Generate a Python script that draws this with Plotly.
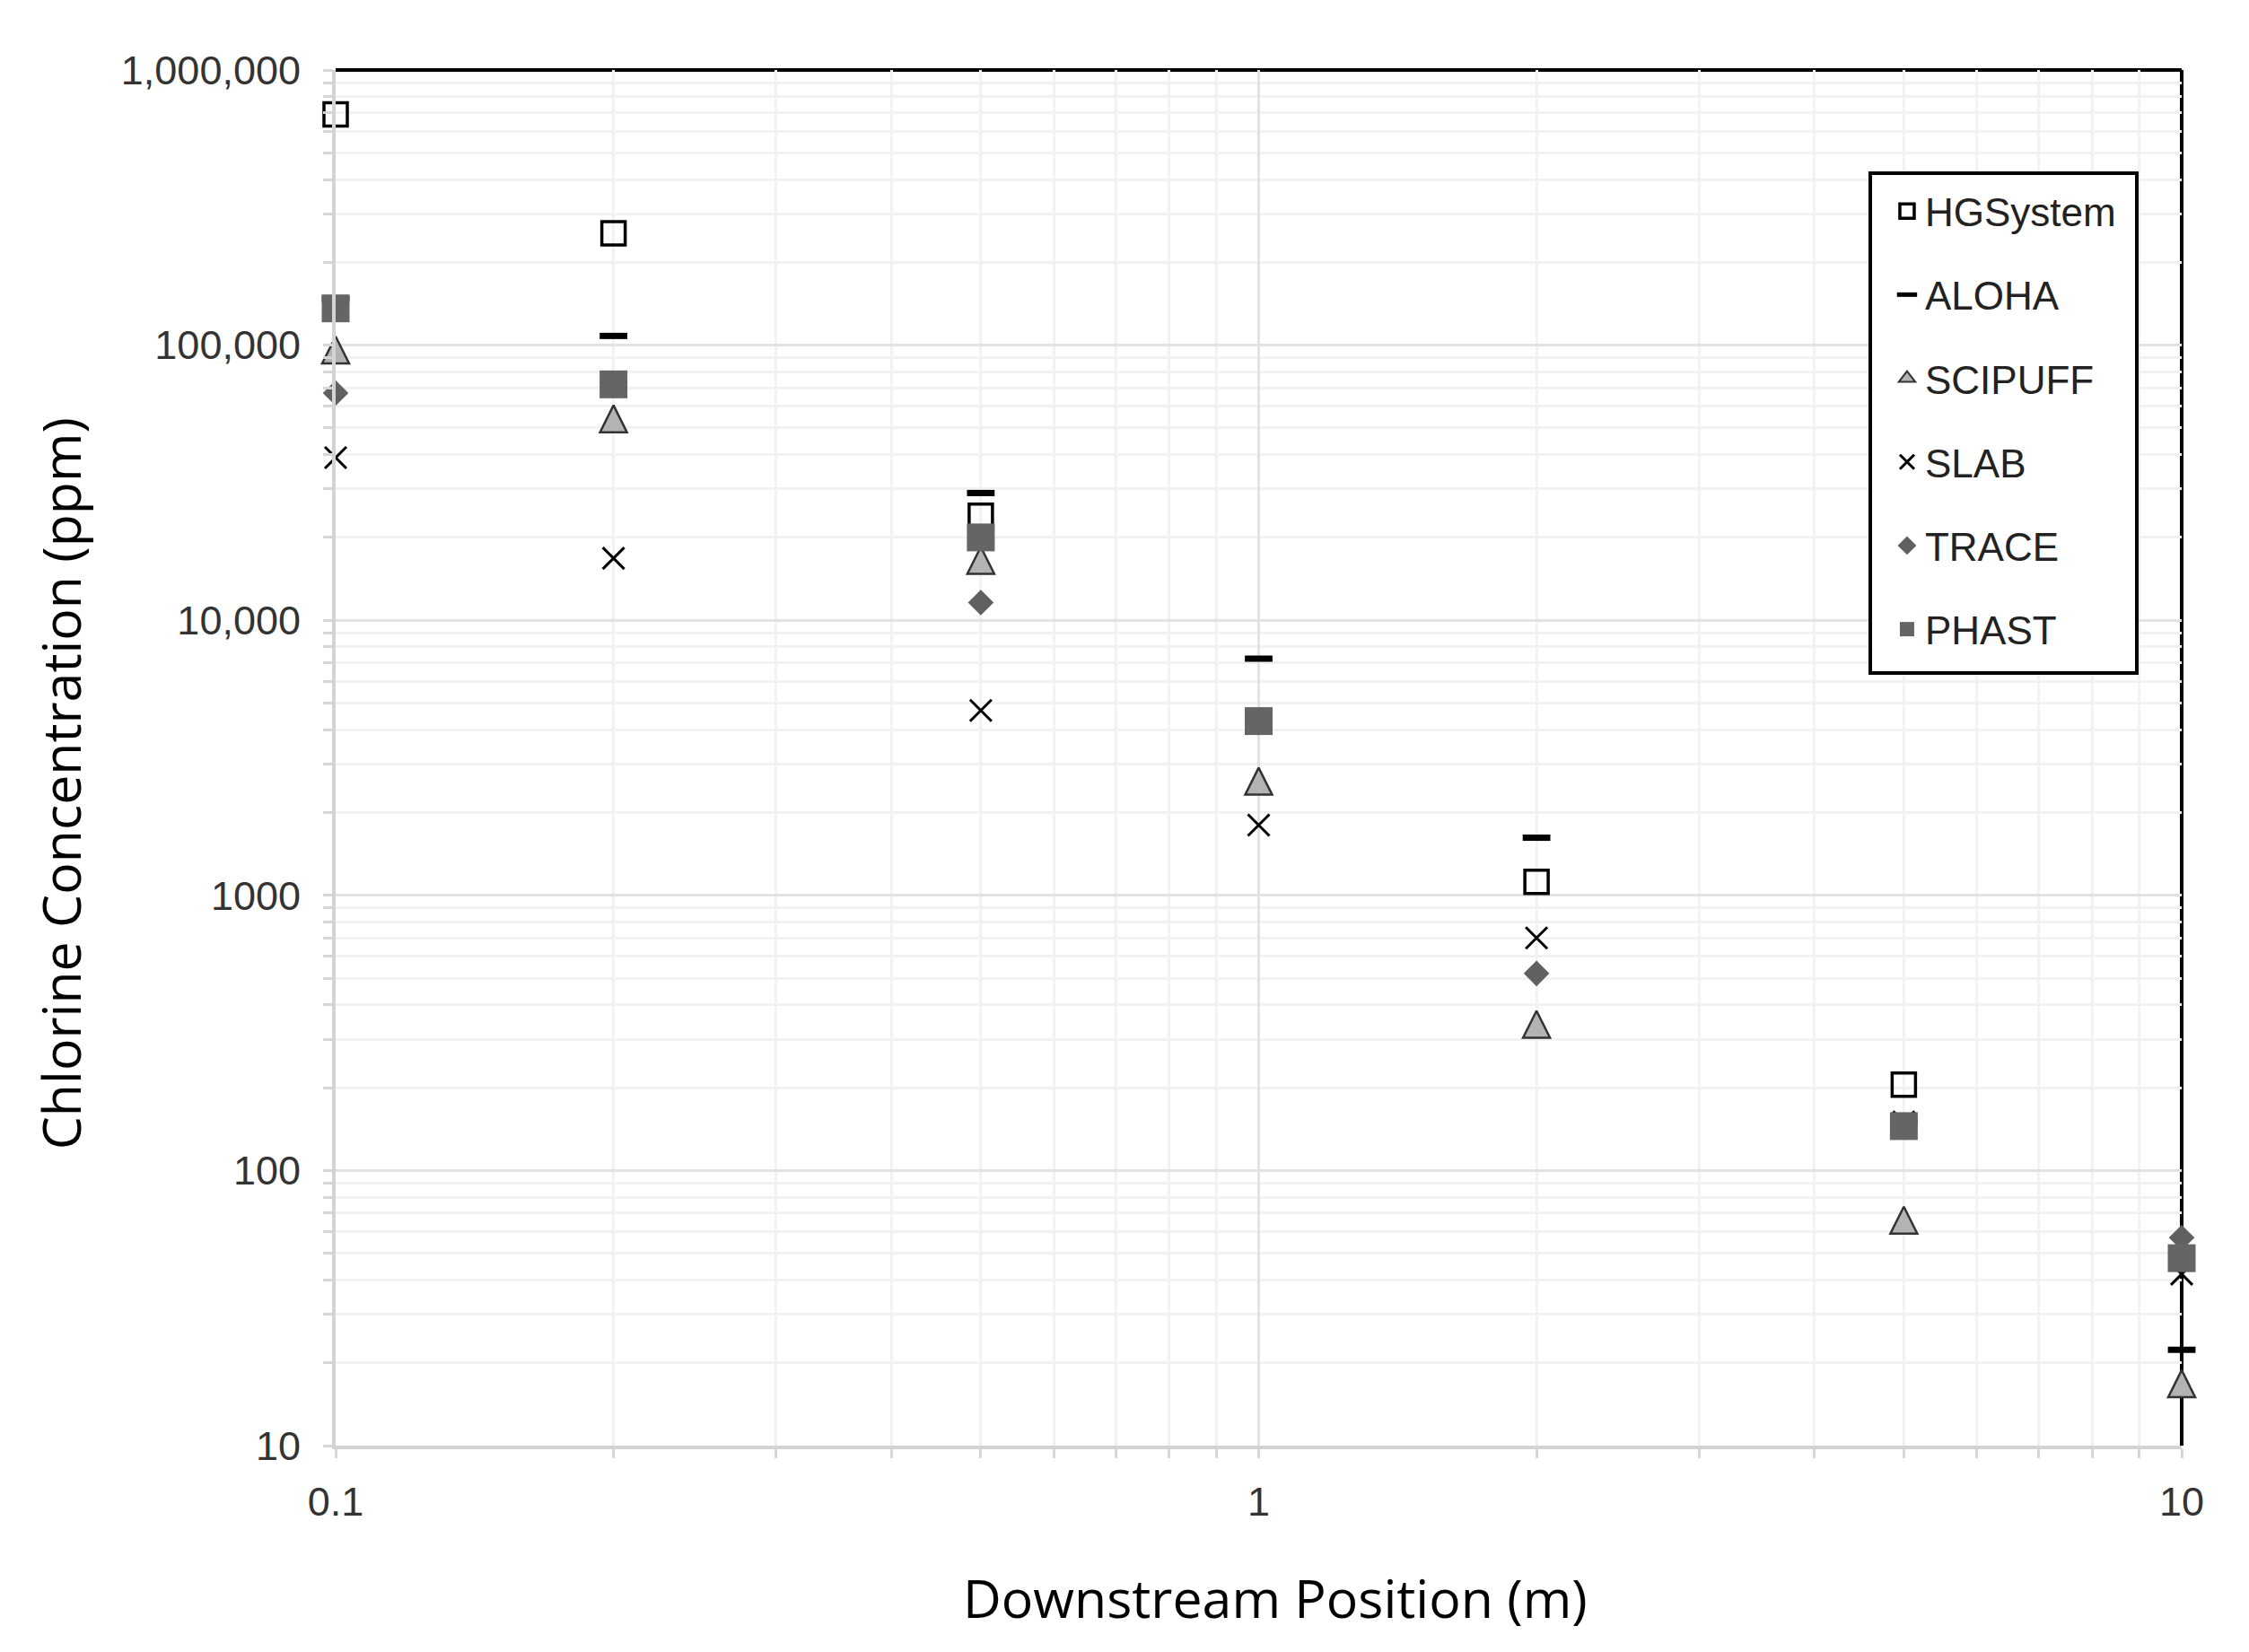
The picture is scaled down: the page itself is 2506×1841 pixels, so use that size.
import plotly.graph_objects as go

# ---- data ----
positions = [0.1, 0.2, 0.5, 1, 2, 5, 10]
hgsystem = [690000, 255000, 24000, None, 1120, 205, None]
aloha    = [147000, 108000, 29000, 7250, 1620, 150, 22.3]
scipuff  = [96000, 54000, 16500, 2600, 340, 66, 16.8]
slab     = [39000, 16800, 4700, 1800, 700, 150, 42]
trace_m  = [67000, None, 11600, None, 520, None, 57]
phast    = [136000, 72000, 20000, 4300, None, 145, 48]

series_names = ["HGSystem", "ALOHA", "SCIPUFF", "SLAB", "TRACE", "PHAST"]
series_values = [hgsystem, aloha, scipuff, slab, trace_m, phast]

x_tickvals = [0.1, 1, 10]
x_ticktext = ["0.1", "1", "10"]
y_tickvals = [10, 100, 1000, 10000, 100000, 1000000]
y_ticktext = ["10", "100", "1000", "10,000", "100,000", "1,000,000"]

# ---- styles ----
marker_styles = {
    "HGSystem": dict(symbol="square-open", size=26, color="black", line=dict(width=3.5)),
    "ALOHA": dict(symbol="line-ew-open", size=22, color="black", line=dict(width=7)),
    "SCIPUFF": dict(symbol="arrow-down", angle=180, standoff=15, size=30, color="#b3b3b3",
                    line=dict(width=2.5, color="#333333")),
    "SLAB": dict(symbol="x-thin-open", size=24, color="black", line=dict(width=3)),
    "TRACE": dict(symbol="diamond", size=22, color="#606060", line=dict(width=0)),
    "PHAST": dict(symbol="square", size=31, color="#656565", line=dict(width=0)),
}
# legend-only look for the triangle (the plotted one uses a centred tall arrow shape)
scipuff_legend_marker = dict(symbol="triangle-up", size=16, color="#b3b3b3",
                             line=dict(width=2, color="#333333"))

fig = go.Figure()
for name, vals in zip(series_names, series_values):
    is_tri = name == "SCIPUFF"
    fig.add_trace(go.Scatter(
        x=positions, y=vals, mode="markers", name=name,
        legendgroup=name, marker=marker_styles[name], cliponaxis=False,
        showlegend=not is_tri,
    ))
    if is_tri:
        fig.add_trace(go.Scatter(
            x=[None], y=[None], mode="markers", name=name,
            legendgroup=name, marker=scipuff_legend_marker, showlegend=True,
        ))

tick_font = dict(family="Liberation Sans, Arial, sans-serif", size=45, color="#333333")
minor_common = dict(showgrid=True, gridcolor="#f2f2f2", gridwidth=3,
                    ticks="outside", ticklen=10, tickcolor="#d6d6d6", tickwidth=3)

fig.update_xaxes(
    type="log", range=[-1, 1], tickmode="array", tickvals=x_tickvals, ticktext=x_ticktext,
    showgrid=True, gridcolor="#e2e2e2", gridwidth=3,
    ticks="outside", ticklen=10, tickcolor="#d6d6d6", tickwidth=3,
    showline=True, linecolor="#d3d3d3", linewidth=4, zeroline=False,
    tickfont=tick_font, ticklabelstandoff=10,
    minor=dict(dtick="D1", **minor_common),
)
fig.update_yaxes(
    type="log", range=[1, 6], tickmode="array", tickvals=y_tickvals, ticktext=y_ticktext,
    showgrid=True, gridcolor="#e2e2e2", gridwidth=3,
    ticks="outside", ticklen=10, tickcolor="#d6d6d6", tickwidth=3,
    showline=True, linecolor="#d3d3d3", linewidth=4, zeroline=False,
    tickfont=tick_font, ticklabelstandoff=16,
    minor=dict(dtick="D1", **minor_common),
)

# black frame on top and right
fig.add_shape(type="line", xref="paper", yref="paper", x0=0, x1=1, y0=1, y1=1,
              line=dict(color="black", width=4), layer="between")
fig.add_shape(type="line", xref="paper", yref="paper", x0=1, x1=1, y0=0, y1=1,
              line=dict(color="black", width=4), layer="between")
# legend box
fig.add_shape(type="rect", xref="paper", yref="paper", x0=0.8313, x1=0.9757,
              y0=0.5617, y1=0.925, line=dict(color="black", width=4),
              fillcolor="white", layer="above")

title_font = dict(family="Open Sans, Noto Sans, sans-serif", size=59, color="black")
fig.add_annotation(text="Downstream Position (m)", xref="paper", yref="paper",
                   x=0.509, y=-0.110, xanchor="center", yanchor="middle",
                   showarrow=False, font=title_font)
fig.add_annotation(text="Chlorine Concentration (ppm)", xref="paper", yref="paper",
                   x=-0.1494, y=0.481, xanchor="center", yanchor="middle", textangle=-90,
                   showarrow=False, font=title_font)

fig.update_layout(
    width=2506, height=1841,
    margin=dict(l=366, r=83, t=70, b=238),
    paper_bgcolor="white", plot_bgcolor="white",
    showlegend=True,
    legend=dict(
        x=0.8415, y=0.9204, xanchor="left", yanchor="top",
        bgcolor="rgba(0,0,0,0)", borderwidth=0,
        font=dict(family="Liberation Sans, Arial, sans-serif", size=44, color="#222222"),
        tracegroupgap=33, itemwidth=30,
    ),
)

fig.write_html("out.html")
